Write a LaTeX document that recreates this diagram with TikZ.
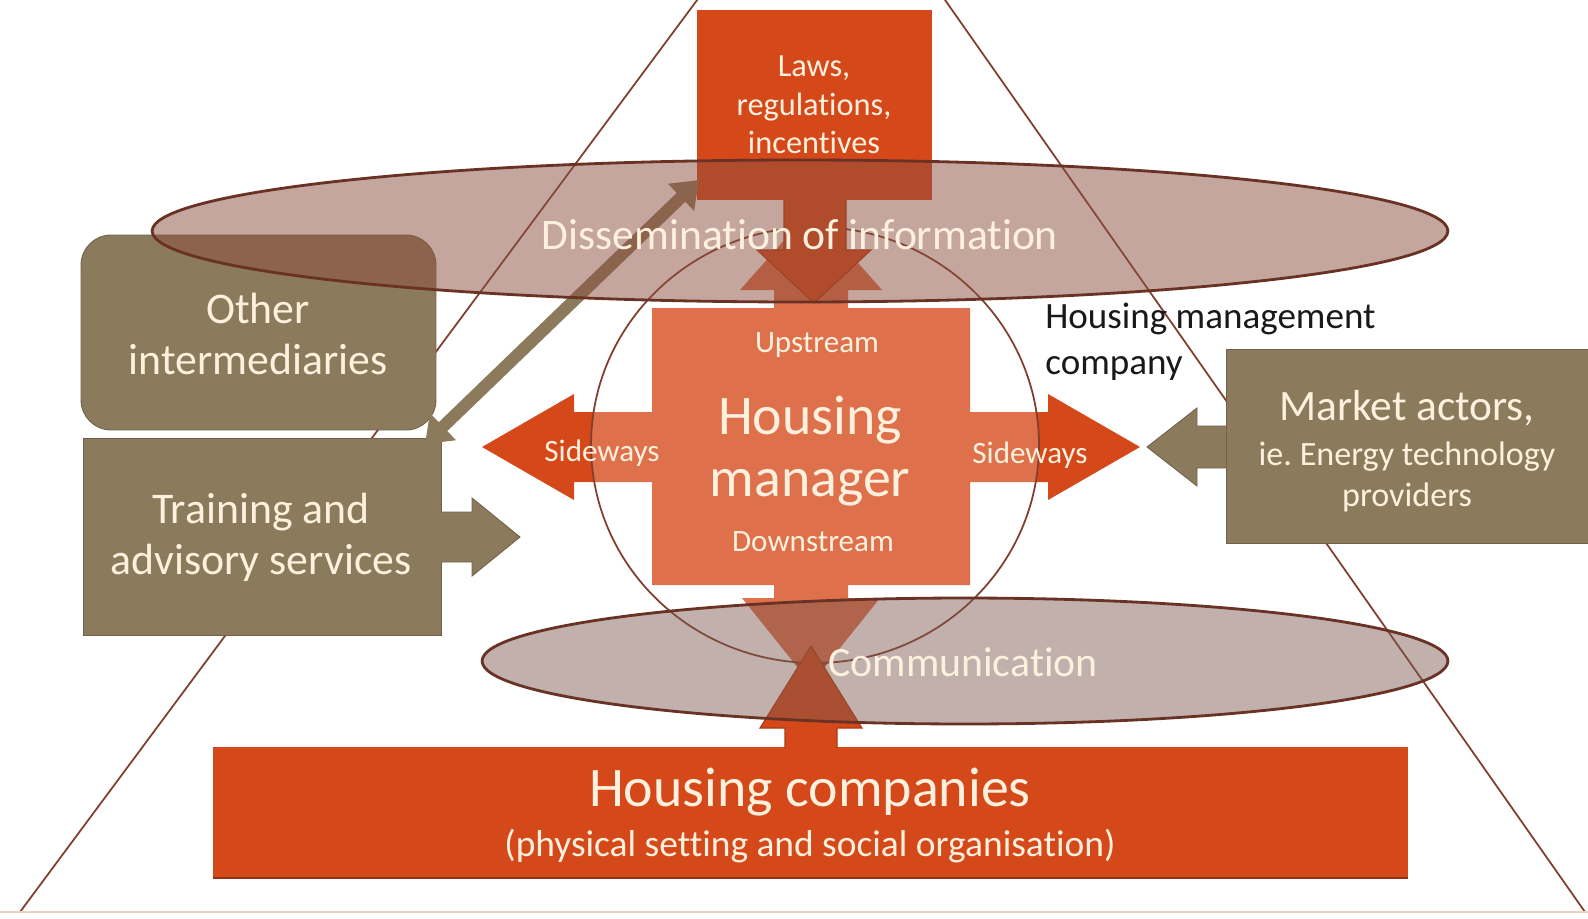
\documentclass[tikz,border=0pt]{standalone}
\usepackage{fontspec}
\setmainfont{Carlito}[Ligatures=NoCommon]
\usetikzlibrary{arrows.meta,shapes.geometric}
\definecolor{redA}{RGB}{213,72,26}
\definecolor{oliveA}{RGB}{140,122,92}
\definecolor{creamA}{RGB}{253,241,222}
\definecolor{brownA}{RGB}{105,50,36}
\definecolor{triA}{RGB}{128,62,46}
\definecolor{ellA}{RGB}{140,78,62}
\definecolor{commA}{RGB}{125,88,78}
\definecolor{baseA}{RGB}{242,210,190}
\frenchspacing
\begin{document}
\begin{tikzpicture}[x=0.02cm,y=-0.02cm,
  redbox/.style={rectangle,fill=redA,draw=none,inner sep=0pt},
  olivebox/.style={rectangle,fill=oliveA,draw=oliveA!80!black,line width=0.5pt,inner sep=0pt},
  lbl/.style={text=creamA,inner sep=0pt,align=center},
  ovl/.style={ellipse,draw=brownA,line width=1.6pt,inner sep=0pt},
  triline/.style={draw=triA,line width=1pt},
  redarrow/.style={fill=redA,draw=redA!80!black,line width=0.6pt},
  olivearrow/.style={fill=oliveA,draw=oliveA!80!black,line width=0.5pt}]
\clip (0,0) rectangle (1588,919);
\fill[white] (0,0) rectangle (1588,919);
% pyramid
\coordinate (tL1) at (712,-20); \coordinate (tL2) at (20,912);
\coordinate (tR1) at (931,-20); \coordinate (tR2) at (1585,912);
\draw[triline] (tL1) -- (tL2);
\draw[triline] (tR1) -- (tR2);
\coordinate (bl) at (0,912); \coordinate (br) at (1588,912);
\draw[baseA,line width=1.2pt] (bl) -- (br);
% housing manager cross
\fill[redA] (811,210) -- (882,290) -- (848,290) -- (848,308) -- (970,308) -- (970,412) -- (1048,412) -- (1048,394) -- (1140,447) -- (1048,500) -- (1048,482) -- (970,482) -- (970,585) -- (848,585) -- (848,598) -- (880,598) -- (811,684) -- (742,598) -- (774,598) -- (774,585) -- (652,585) -- (652,482) -- (574,482) -- (574,500) -- (482,447) -- (574,394) -- (574,412) -- (652,412) -- (652,308) -- (774,308) -- (774,290) -- (740,290) -- cycle;
\node[ellipse,minimum width=8.96cm,minimum height=8.72cm,fill=white,fill opacity=0.22,draw=triA,line width=1pt,inner sep=0pt] (hmc) at (815,445) {};
% laws
\node[redbox,minimum width=4.7cm,minimum height=3.8cm] (laws) at (814.5,105) {};
\path[redarrow] (784,199) -- (784,250) -- (757,250) -- (814,303) -- (871,250) -- (846,250) -- (846,199);
% housing companies
\node[redbox,minimum width=23.9cm,minimum height=2.62cm] (hc) at (810.5,812.5) {};
\coordinate (hcs1) at (213,878); \coordinate (hcs2) at (1408,878);
\draw[redA!70!black,line width=1pt] (hcs1) -- (hcs2);
\path[redarrow] (785,748) -- (785,728) -- (760,728) -- (811,646) -- (862,728) -- (837,728) -- (837,748);
% olive boxes
\node[olivebox,rounded corners=0.6cm,minimum width=7.1cm,minimum height=3.9cm] (oth) at (258.5,332.5) {};
\node[olivebox,minimum width=7.16cm,minimum height=3.94cm] (trn) at (262,536.5) {};
\path[olivearrow] (441,512) -- (472,512) -- (472,498) -- (520,537) -- (472,576) -- (472,562) -- (441,562);
\node[olivebox,minimum width=7.24cm,minimum height=3.88cm] (mkt) at (1407,446) {};
\path[olivearrow] (1226,426) -- (1197,426) -- (1197,408) -- (1147,447) -- (1197,486) -- (1197,468) -- (1226,468);
\coordinate (dA) at (425,444); \coordinate (dB) at (699,180);
\draw[oliveA,line width=7pt,{Triangle[length=0.5cm,width=0.72cm]}-{Triangle[length=0.5cm,width=0.72cm]}] (dA) -- (dB);
% ellipses
\node[ovl,fill=ellA,fill opacity=0.5,minimum width=25.92cm,minimum height=2.84cm] (diss) at (800,231) {};
\node[ovl,fill=commA,fill opacity=0.47,minimum width=19.32cm,minimum height=2.52cm] (comm) at (965,661) {};
% texts
\node[lbl,font=\fontsize{18.4}{21.8}\selectfont] (lawsT) at (814,105) {Laws,\\regulations,\\incentives};
\node[lbl,font=\fontsize{24.8}{30}\selectfont] (dissT) at (800,235) {Dissemination of information};
\node[lbl,font=\fontsize{23.8}{28}\selectfont] (commT) at (963,662) {Communication};
\node[lbl,font=\fontsize{17.7}{21}\selectfont] (upT) at (817,345) {Upstream};
\node[lbl,font=\fontsize{31.8}{35.7}\selectfont] (hmT) at (810,451) {Housing\\manager};
\node[lbl,font=\fontsize{17.7}{21}\selectfont] (dnT) at (813,542) {Downstream};
\node[lbl,font=\fontsize{17.7}{21}\selectfont] (swL) at (602,453) {Sideways};
\node[lbl,font=\fontsize{17.7}{21}\selectfont] (swR) at (1030,455) {Sideways};
\node[lbl,font=\fontsize{24.9}{28.9}\selectfont] (othT) at (258,334) {Other\\intermediaries};
\node[lbl,font=\fontsize{24.9}{28.9}\selectfont] (trnT) at (261,537) {Training and\\advisory services};
\node[lbl,font=\fontsize{24.7}{28}\selectfont] (mkT1) at (1407,408) {Market actors,};
\node[lbl,font=\fontsize{19.4}{23.2}\selectfont] (mkT2) at (1407,477) {ie. Energy technology\\providers};
\node[font=\fontsize{21.1}{26}\selectfont,text=black!90,anchor=west,align=left,inner sep=0pt] (hmcoT) at (1045,342) {Housing management\\company};
\node[lbl,font=\fontsize{31.8}{36}\selectfont] (hcT1) at (810,792) {Housing companies};
\node[lbl,font=\fontsize{21.3}{25}\selectfont] (hcT2) at (810,846) {(physical setting and social organisation)};
\end{tikzpicture}
\end{document}
